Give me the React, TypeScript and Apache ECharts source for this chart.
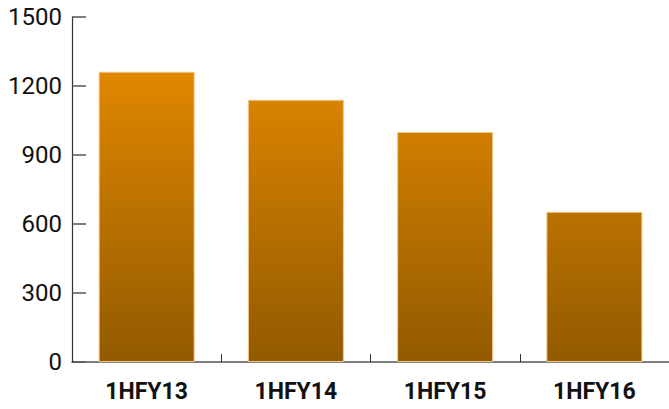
import React, { useEffect, useRef } from "react";
import * as echarts from "echarts";

const categories = ["1HFY13", "1HFY14", "1HFY15", "1HFY16"];
const values = [1262, 1140, 1000, 653];
const yTicks = { min: 0, max: 1500, interval: 300 };

export default function App() {
  const ref = useRef<HTMLDivElement>(null);
  useEffect(() => {
    const chart = echarts.init(ref.current!, null, { renderer: "svg" });
    chart.setOption({
      animation: false,
      grid: { left: 72, right: 0, top: 17, bottom: 47 },
      xAxis: {
        type: "category",
        data: categories,
        axisLine: { lineStyle: { color: "#555", width: 1.5 } },
        axisTick: { show: true, inside: true, length: 8, lineStyle: { color: "#333" } },
        axisLabel: {
          color: "#111",
          fontSize: 23,
          fontWeight: "bold",
          fontFamily: "Roboto, sans-serif",
          margin: 18,
        },
      },
      yAxis: {
        type: "value",
        min: yTicks.min,
        max: yTicks.max,
        interval: yTicks.interval,
        splitLine: { show: false },
        axisLine: { show: true, lineStyle: { color: "#333", width: 1.2 } },
        axisTick: { show: true, inside: true, length: 14, lineStyle: { color: "#555", width: 1.5 } },
        axisLabel: {
          color: "#111",
          fontSize: 24,
          fontFamily: "Roboto, sans-serif",
          margin: 10,
          formatter: (v: number) => String(v),
        },
      },
      series: [
        {
          type: "bar",
          data: values,
          barWidth: 96,
          itemStyle: {
            borderColor: "#f3c88a",
            borderWidth: 1,
            color: new echarts.graphic.LinearGradient(
              0, 72, 0, 362,
              [
                { offset: 0, color: "#E08700" },
                { offset: 1, color: "#925A00" },
              ],
              true
            ),
          },
        },
      ],
    });
    return () => chart.dispose();
  }, []);
  return <div ref={ref} style={{ width: 669, height: 409, position: "absolute", left: 0, top: 0 }} />;
}
